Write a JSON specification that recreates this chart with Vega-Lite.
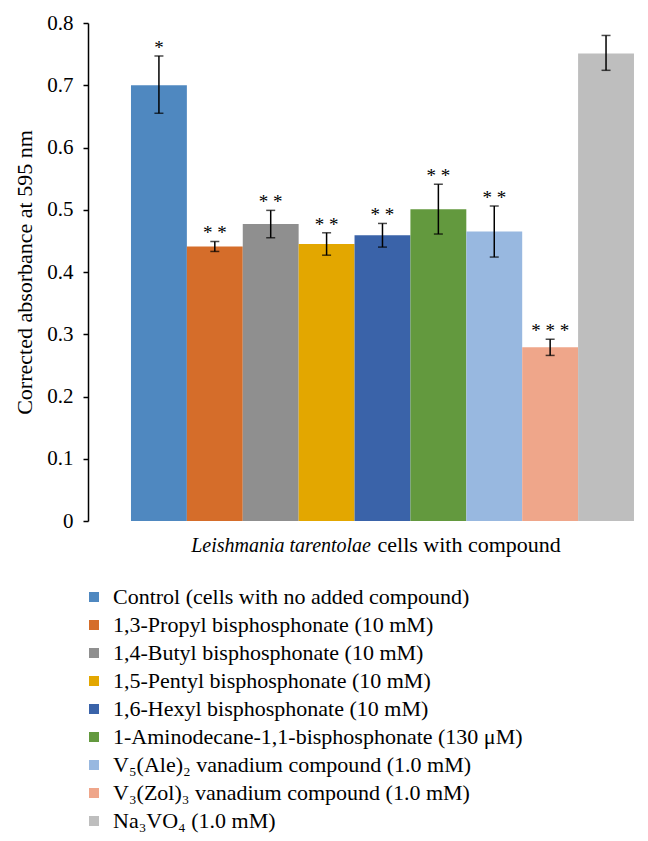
{
  "$schema": "https://vega.github.io/schema/vega-lite/v6.json",
  "autosize": {"type": "none"},
  "padding": {"left": 88, "top": 23, "right": 0, "bottom": 320},
  "width": 560,
  "height": 498,
  "background": "white",
  "config": {
    "view": {"stroke": null},
    "font": "Times New Roman, Liberation Serif, serif",
    "axis": {"labelFont": "Times New Roman, Liberation Serif, serif", "titleFont": "Times New Roman, Liberation Serif, serif"},
    "legend": {"labelFont": "Times New Roman, Liberation Serif, serif", "titleFont": "Times New Roman, Liberation Serif, serif"},
    "text": {"font": "Times New Roman, Liberation Serif, serif"}
  },
  "data": {"values": [
    {"group": "Leishmania tarentolae", "compound": "Control (cells with no added compound)", "value": 0.700, "lo": 0.655, "hi": 0.747, "sig": "*"},
    {"group": "Leishmania tarentolae", "compound": "1,3-Propyl bisphosphonate (10 mM)", "value": 0.441, "lo": 0.433, "hi": 0.449, "sig": "* *"},
    {"group": "Leishmania tarentolae", "compound": "1,4-Butyl bisphosphonate (10 mM)", "value": 0.477, "lo": 0.455, "hi": 0.499, "sig": "* *"},
    {"group": "Leishmania tarentolae", "compound": "1,5-Pentyl bisphosphonate (10 mM)", "value": 0.445, "lo": 0.427, "hi": 0.463, "sig": "* *"},
    {"group": "Leishmania tarentolae", "compound": "1,6-Hexyl bisphosphonate (10 mM)", "value": 0.459, "lo": 0.440, "hi": 0.478, "sig": "* *"},
    {"group": "Leishmania tarentolae", "compound": "1-Aminodecane-1,1-bisphosphonate (130 μM)", "value": 0.501, "lo": 0.461, "hi": 0.541, "sig": "* *"},
    {"group": "Leishmania tarentolae", "compound": "V₅(Ale)₂ vanadium compound (1.0 mM)", "value": 0.465, "lo": 0.424, "hi": 0.506, "sig": "* *"},
    {"group": "Leishmania tarentolae", "compound": "V₃(Zol)₃ vanadium compound (1.0 mM)", "value": 0.279, "lo": 0.266, "hi": 0.292, "sig": "* * *"},
    {"group": "Leishmania tarentolae", "compound": "Na₃VO₄ (1.0 mM)", "value": 0.751, "lo": 0.724, "hi": 0.780, "sig": ""}
  ]},
  "encoding": {
    "x": {
      "field": "group", "type": "nominal",
      "scale": {"paddingInner": 0, "paddingOuter": 0},
      "axis": {
        "title": "cells with compound",
        "titleFontSize": 22, "titleFontWeight": "normal", "titleColor": "black",
        "titleAlign": "left", "titleBaseline": "alphabetic", "titleAnchor": null,
        "titleX": 289, "titleY": 30,
        "labelFontStyle": "italic", "labelFontSize": 20, "labelColor": "black",
        "labelAlign": "right", "labelBaseline": "alphabetic", "labelAngle": 0,
        "labelOffset": 3, "labelPadding": 30, "labelLimit": 600,
        "ticks": false, "tickSize": 0, "domain": false
      }
    },
    "xOffset": {
      "field": "compound", "type": "nominal",
      "sort": ["Control (cells with no added compound)", "1,3-Propyl bisphosphonate (10 mM)", "1,4-Butyl bisphosphonate (10 mM)", "1,5-Pentyl bisphosphonate (10 mM)", "1,6-Hexyl bisphosphonate (10 mM)", "1-Aminodecane-1,1-bisphosphonate (130 μM)", "V₅(Ale)₂ vanadium compound (1.0 mM)", "V₃(Zol)₃ vanadium compound (1.0 mM)", "Na₃VO₄ (1.0 mM)"],
      "scale": {"paddingInner": 0, "paddingOuter": 0.51, "align": 0.754}
    }
  },
  "layer": [
    {
      "mark": {"type": "bar"},
      "encoding": {
        "y": {
          "field": "value", "type": "quantitative",
          "scale": {"domain": [0, 0.8]},
          "axis": {
            "title": "Corrected absorbance at 595 nm",
            "titleFontSize": 22, "titleFontWeight": "normal", "titleColor": "black", "titlePadding": 10,
            "labelFontSize": 21, "labelColor": "black", "labelPadding": 10,
            "format": ".1~f", "values": [0, 0.1, 0.2, 0.3, 0.4, 0.5, 0.6, 0.7, 0.8],
            "grid": false, "domainColor": "black", "domainWidth": 1.5,
            "tickColor": "black", "tickSize": 5, "tickWidth": 1.5
          }
        },
        "color": {
          "field": "compound", "type": "nominal",
          "scale": {
            "domain": ["Control (cells with no added compound)", "1,3-Propyl bisphosphonate (10 mM)", "1,4-Butyl bisphosphonate (10 mM)", "1,5-Pentyl bisphosphonate (10 mM)", "1,6-Hexyl bisphosphonate (10 mM)", "1-Aminodecane-1,1-bisphosphonate (130 μM)", "V₅(Ale)₂ vanadium compound (1.0 mM)", "V₃(Zol)₃ vanadium compound (1.0 mM)", "Na₃VO₄ (1.0 mM)"],
            "range": ["#4F88C0", "#D56D2A", "#8F8F8F", "#E3A700", "#3A63A9", "#63993E", "#98B8E0", "#EFA68A", "#BEBEBE"]
          },
          "legend": {
            "orient": "none", "legendX": -5, "legendY": 563, "direction": "vertical", "title": null,
            "symbolType": "square", "symbolSize": 100, "symbolStrokeWidth": 0,
            "labelFontSize": 22, "labelColor": "black", "labelOffset": 8, "labelLimit": 600,
            "rowPadding": 6, "padding": 0
          }
        }
      }
    },
    {
      "mark": {"type": "rule", "color": "black", "strokeWidth": 1.5},
      "encoding": {
        "y": {"field": "lo", "type": "quantitative"},
        "y2": {"field": "hi"}
      }
    },
    {
      "mark": {"type": "tick", "color": "black", "thickness": 1.5, "size": 9},
      "encoding": {"y": {"field": "lo", "type": "quantitative"}}
    },
    {
      "mark": {"type": "tick", "color": "black", "thickness": 1.5, "size": 9},
      "encoding": {"y": {"field": "hi", "type": "quantitative"}}
    },
    {
      "mark": {"type": "text", "baseline": "alphabetic", "dy": -2, "fontSize": 19, "color": "black"},
      "encoding": {
        "y": {"field": "hi", "type": "quantitative"},
        "text": {"field": "sig"}
      }
    }
  ]
}
